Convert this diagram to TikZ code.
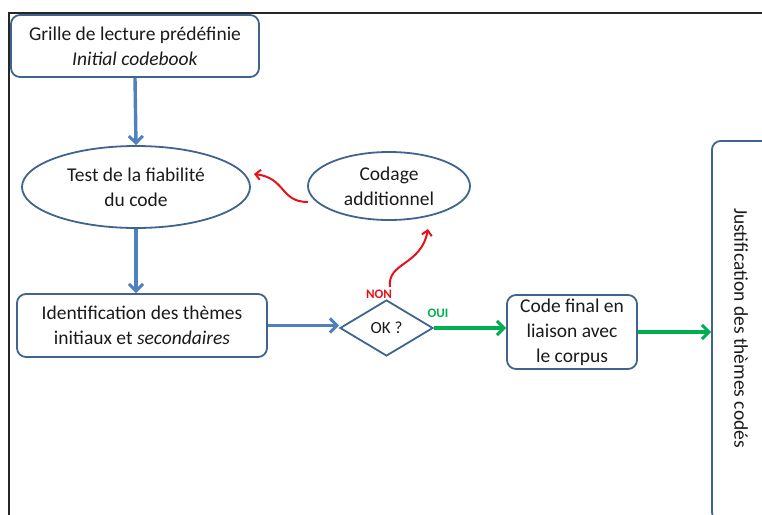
\documentclass[tikz,border=0pt]{standalone}
\usepackage{fontspec}
\setmainfont{Carlito}
\usetikzlibrary{arrows.meta,shapes.geometric}
\definecolor{bord}{HTML}{41648F}
\definecolor{arrblue}{HTML}{4F81BD}
\definecolor{arrgreen}{HTML}{00B050}
\definecolor{arrred}{HTML}{E8101A}
\definecolor{txt}{HTML}{1A1A1A}
\tikzset{
  box/.style={draw=bord, line width=1.8pt, rounded corners=9pt, align=center, inner sep=0pt, text=txt},
  ell/.style={draw=bord, line width=1.8pt, ellipse, align=center, inner sep=0pt, text=txt},
  dia/.style={draw=bord, line width=1.8pt, diamond, inner sep=0pt, text=txt},
  barrow/.style={draw=arrblue, line width=3.4pt, -{Straight Barb[length=7pt,width=14pt,line width=3pt]}},
  garrow/.style={draw=arrgreen, line width=3.4pt, -{Straight Barb[length=7pt,width=14pt,line width=3pt]}},
  rarrow/.style={draw=arrred, line width=2pt, -{Straight Barb[length=5pt,width=10pt,line width=2pt]}},
  lbl/.style={font=\fontsize{13}{15}\selectfont\bfseries, inner sep=0pt},
}
\begin{document}
\begin{tikzpicture}[x=1pt,y=-1pt,font=\fontsize{19.5}{25}\selectfont]
\useasboundingbox (0,0) rectangle (762,514);
\begin{scope}
\clip (0,0) rectangle (762,514);
\draw[line width=2.6pt, black!85] (9,530) -- (9,13) -- (780,13);
\node[box, minimum width=248pt, minimum height=62pt] (grille) at (135,46) {Grille de lecture prédéfinie\\\textit{Initial codebook}};
\node[ell, minimum width=228pt, minimum height=82pt] (test) at (136,187) {Test de la fiabilité\\du code};
\node[ell, minimum width=162pt, minimum height=68pt] (codage) at (389,186) {Codage\\additionnel};
\node[box, minimum width=250pt, minimum height=63pt] (ident) at (142,325.5) {Identification des thèmes\\initiaux et \textit{secondaires}};
\node[dia, minimum width=93pt, minimum height=56pt, aspect=1.66] (ok) at (386.5,328) {\fontsize{17}{19}\selectfont OK ?};
\node[box, minimum width=130pt, minimum height=74pt] (final) at (572,332) {Code final en\\liaison avec\\le corpus};
\node[box, minimum width=70pt, minimum height=380pt, anchor=north west] (justif) at (711,140) {};
\node[rotate=-90, text=txt] (justiftxt) at (741,328) {Justification des thèmes codés};
\node[lbl, text=arrred] (non) at (379,294) {NON};
\node[lbl, text=arrgreen] (oui) at (438,313) {OUI};
\coordinate (r1s) at (308,202);
\coordinate (r1e) at (254,174);
\coordinate (r2s) at (390,287);
\coordinate (r2e) at (428,229);
\end{scope}
\draw[barrow] (grille.south) -- (test.north);
\draw[barrow] (test.south) -- (ident.north -| test.south);
\draw[barrow] (ident.east) -- (ident.east -| ok.west);
\draw[garrow] (ok.east) -- (final.west |- ok.east);
\draw[garrow] (final.east) -- (justif.west |- final.east);
\draw[rarrow] (r1s) .. controls (280,202) and (286,178) .. (r1e);
\draw[rarrow] (r2s) .. controls (387,262) and (421,266) .. (r2e);
\end{tikzpicture}
\end{document}
